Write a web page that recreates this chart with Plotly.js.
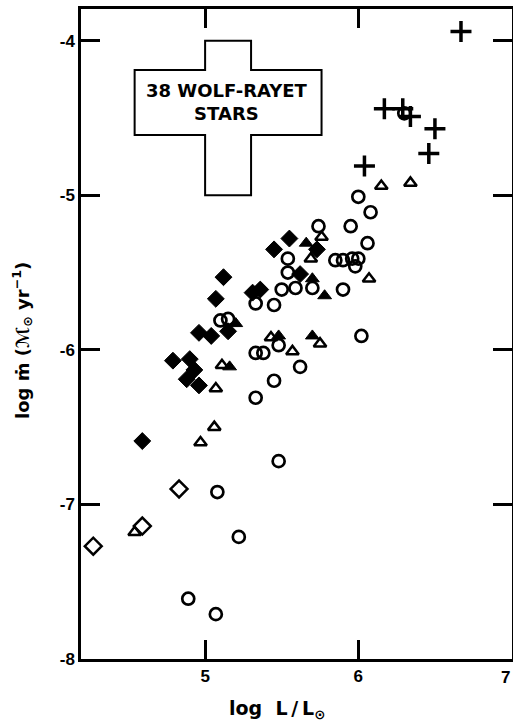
<!DOCTYPE html>
<html>
<head>
<meta charset="utf-8">
<script src="https://cdn.plot.ly/plotly-3.0.1.min.js"></script>
<style>html,body{margin:0;padding:0;background:#fff;}#chart{width:513px;height:722px;}</style>
</head>
<body>
<div id="chart"></div>
<script>
// ---- data (log L/Lsun, log Mdot) ----
const plusX = [6.67, 6.17, 6.29, 6.34, 6.50, 6.46, 6.04];
const plusY = [-3.94, -4.44, -4.44, -4.49, -4.57, -4.73, -4.81];

const openTriX = [6.15, 6.34, 5.76, 5.69, 6.07, 5.43, 5.57, 5.75, 5.11, 5.07, 5.06, 4.97, 4.54];
const openTriY = [-4.94, -4.92, -5.27, -5.41, -5.54, -5.92, -6.01, -5.96, -6.10, -6.25, -6.50, -6.60, -7.18];

const fillTriX = [5.66, 5.70, 5.78, 5.48, 5.70, 5.16, 5.20];
const fillTriY = [-5.31, -5.54, -5.65, -5.91, -5.91, -6.11, -5.83];

const fillDiaX = [5.55, 5.73, 5.45, 5.12, 5.62, 5.07, 5.31, 5.36, 5.15, 4.96, 5.04, 4.79, 4.90, 4.93, 4.88, 4.96, 4.59];
const fillDiaY = [-5.28, -5.35, -5.35, -5.53, -5.51, -5.67, -5.63, -5.61, -5.88, -5.89, -5.91, -6.07, -6.06, -6.13, -6.19, -6.23, -6.59];

const openDiaX = [4.83, 4.59, 4.27];
const openDiaY = [-6.90, -7.14, -7.27];

const circX = [6.30, 6.00, 6.08, 5.95, 5.74, 6.06, 5.54, 5.85, 5.90, 5.96, 6.00, 5.98, 5.54, 5.50, 5.59, 5.70, 5.90,
               5.33, 5.45, 5.10, 5.15, 5.48, 6.02, 5.33, 5.38, 5.62, 5.45, 5.33, 5.48, 5.08, 5.22, 4.89, 5.07];
const circY = [-4.47, -5.01, -5.11, -5.20, -5.20, -5.31, -5.41, -5.42, -5.42, -5.41, -5.41, -5.46, -5.50, -5.61, -5.60, -5.60, -5.61,
               -5.70, -5.71, -5.81, -5.80, -5.97, -5.91, -6.02, -6.02, -6.11, -6.20, -6.31, -6.72, -6.92, -7.21, -7.61, -7.71];

const xTickVals = [5, 6, 7];
const xTickText = ["5", "6", "7"];
const yTickVals = [-8, -7, -6, -5, -4];
const yTickText = ["-8", "-7", "-6", "-5", "-4"];

const boxLabel = "38 WOLF-RAYET<br>STARS";
const xTitle = "log  L\u2009/\u2009L<sub>⊙</sub>";
const yTitle = "log ṁ (ℳ<sub>⊙</sub> yr<sup>−1</sup>)";

// ---- traces ----
const black = "#000";
function mk(x, y, symbol, size, lw, name) {
  return {x: x, y: y, type: "scatter", mode: "markers", name: name,
          marker: {symbol: symbol, size: size, color: black, line: {color: black, width: lw}}};
}
const data = [
  mk(circX, circY, "circle-open", 12, 2.7, "open circles"),
  mk(openTriX, openTriY, "triangle-up-open", 11, 2.5, "open triangles"),
  mk(fillTriX, fillTriY, "triangle-up", 12, 1, "filled triangles"),
  mk(fillDiaX, fillDiaY, "diamond", 13, 1, "filled diamonds"),
  mk(openDiaX, openDiaY, "diamond-open", 13, 2.5, "open diamonds"),
  mk(plusX, plusY, "cross-thin-open", 15, 3.5, "crosses")
];

const tickFont = {family: "Liberation Sans, Arial, sans-serif", size: 17, color: black, weight: 700};
function axisCommon() {
  return {showline: true, mirror: "ticks", linewidth: 2.5, linecolor: black,
    ticks: "inside", ticklen: 19, tickwidth: 2.5, tickcolor: black,
    showgrid: false, zeroline: false, tickfont: Object.assign({}, tickFont), tickmode: "array"};
}

const plotW = 513 - 82, plotH = 722 - 72;
const layout = {
  width: 513, height: 722,
  margin: {l: 81, r: 1, t: 9, b: 63, pad: 0},
  paper_bgcolor: "#fff", plot_bgcolor: "#fff",
  showlegend: false,
  xaxis: Object.assign(axisCommon(), {range: [4.19, 7.003], tickvals: xTickVals, ticktext: xTickText}),
  yaxis: Object.assign(axisCommon(), {range: [-8, -3.795], tickvals: yTickVals, ticktext: yTickText}),
  shapes: [{
    type: "path", xref: "x", yref: "y",
    path: "M 5.0 -4.0 L 5.3 -4.0 L 5.3 -4.19 L 5.76 -4.19 L 5.76 -4.61 L 5.3 -4.61 L 5.3 -5.0 L 5.0 -5.0 L 5.0 -4.61 L 4.54 -4.61 L 4.54 -4.19 L 5.0 -4.19 Z",
    line: {color: black, width: 2}, fillcolor: "rgba(0,0,0,0)"
  }],
  annotations: [
    {text: boxLabel, x: 5.145, y: -4.395, xref: "x", yref: "y", showarrow: false,
     font: {family: "DejaVu Sans, sans-serif", size: 18, color: black, weight: 700}, align: "center"},
    {text: xTitle, xref: "paper", yref: "paper",
     x: (277 - 81) / plotW, y: (659 - 709) / plotH, xanchor: "center", yanchor: "middle", showarrow: false,
     font: {family: "DejaVu Sans, sans-serif", size: 19, color: black, weight: 700}},
    {text: yTitle, xref: "paper", yref: "paper",
     x: (22 - 81) / plotW, y: (659 - 341) / plotH, xanchor: "center", yanchor: "middle", textangle: -90, showarrow: false,
     font: {family: "DejaVu Sans, sans-serif", size: 18, color: black, weight: 700}},
    // last x tick label sits on the page edge (Plotly hides it), drawn as annotation kept inside the page
    {text: xTickText[2], x: xTickVals[2], xref: "x", yref: "paper", y: (659 - 677.5) / plotH,
     xanchor: "right", yanchor: "middle", showarrow: false, font: Object.assign({}, tickFont)}
  ]
};

Plotly.newPlot("chart", data, layout, {displayModeBar: false});
</script>
</body>
</html>
